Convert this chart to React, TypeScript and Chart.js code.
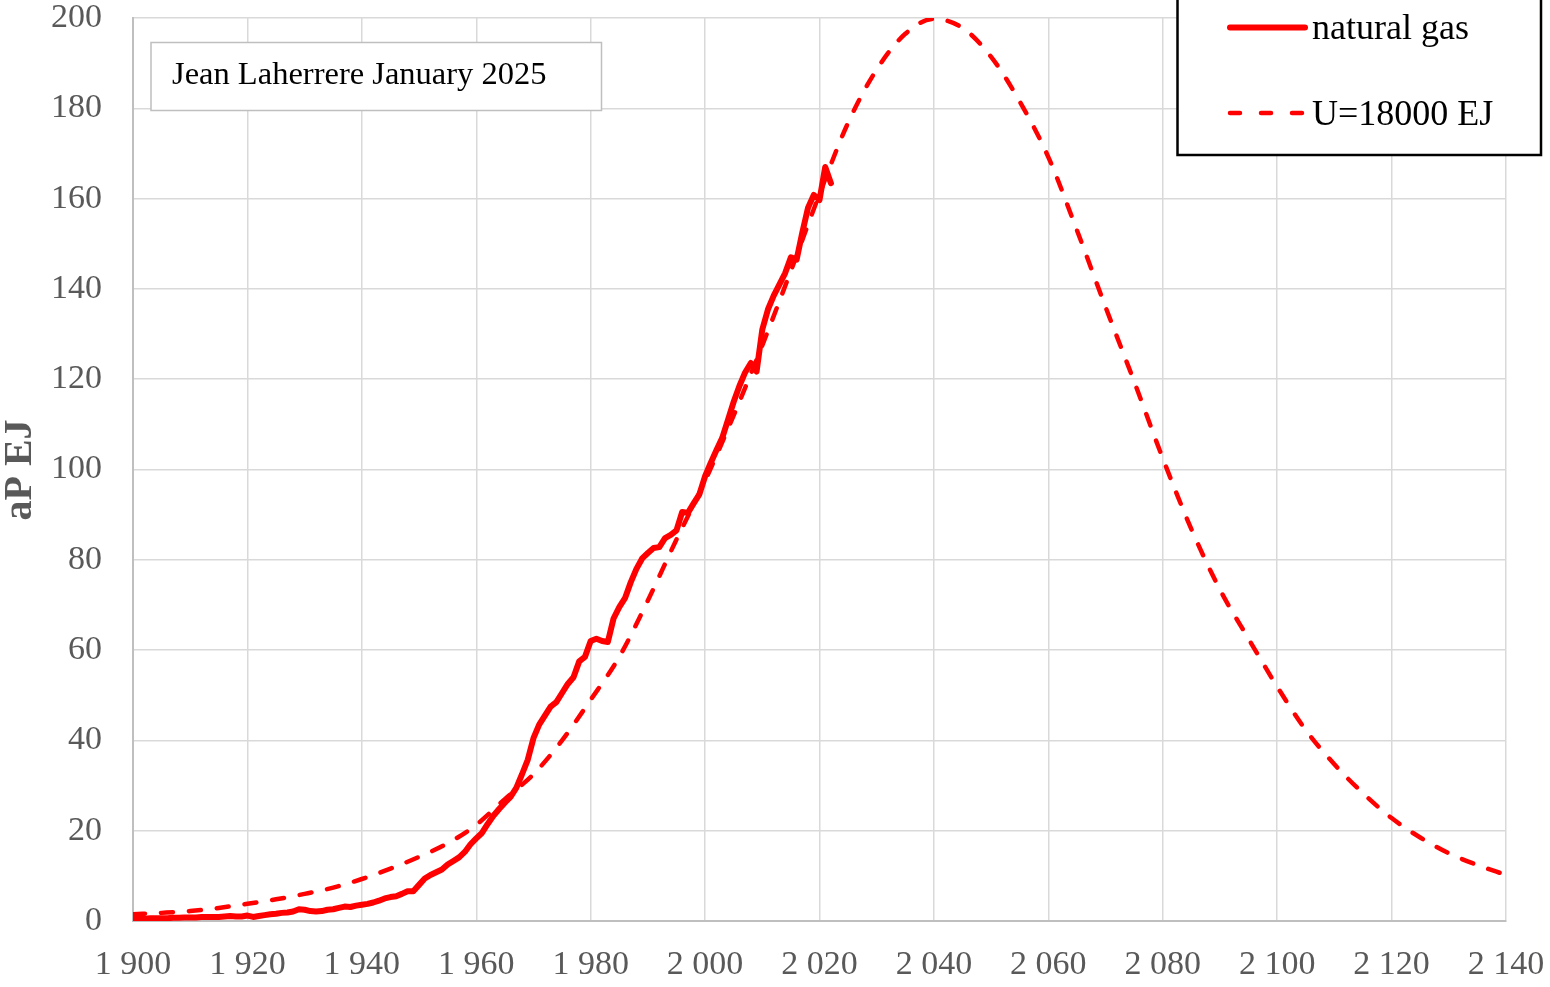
import React, { useEffect, useRef } from "react";
import { Chart, registerables } from "chart.js";

Chart.register(...registerables);

// natural gas, annual production (EJ), yearly from GAS_START_YEAR
const GAS_START_YEAR = 1900;
const GAS_VALUES = [
  0.5, 0.5, 0.5, 0.6, 0.6, 0.6, 0.6, 0.7, 0.7, 0.8,
  0.8, 0.8, 0.9, 0.9, 0.9, 0.9, 1.0, 1.1, 1.0, 1.0,
  1.2, 0.9, 1.1, 1.3, 1.5, 1.6, 1.8, 1.9, 2.1, 2.6,
  2.5, 2.2, 2.1, 2.2, 2.5, 2.6, 2.9, 3.2, 3.1, 3.4,
  3.6, 3.8, 4.1, 4.5, 5.0, 5.3, 5.5, 6.0, 6.6, 6.6,
  8.0, 9.4, 10.2, 10.8, 11.4, 12.5, 13.3, 14.1, 15.3, 17.0,
  18.3, 19.5, 21.5, 23.3, 24.8, 26.2, 27.5, 29.5, 32.5, 35.7,
  40.5, 43.5, 45.5, 47.5, 48.5, 50.5, 52.5, 54.0, 57.5, 58.5,
  62.0, 62.5, 62.0, 61.8, 67.0, 69.5, 71.5, 75.0, 78.0, 80.3,
  81.5, 82.6, 82.8, 84.8, 85.5, 86.5, 90.6, 90.4, 92.5, 94.5,
  98.5, 101.5, 104.3, 107.0, 111.0, 115.0, 118.5, 121.5, 123.6, 121.7,
  131.0, 135.5, 138.5, 141.0, 143.5, 147.0, 146.5, 152.5, 158.0, 160.8,
  159.7, 167.0, 163.4,
];

// model curve U=18000 EJ, read every 5 years
const MODEL_YEARS = [
  1900, 1905, 1910, 1915, 1920, 1925, 1930, 1935, 1940, 1945,
  1950, 1955, 1960, 1965, 1970, 1975, 1980, 1985, 1990, 1995,
  2000, 2005, 2010, 2015, 2020, 2025, 2030, 2035, 2040, 2045,
  2050, 2055, 2060, 2065, 2070, 2075, 2080, 2085, 2090, 2095,
  2100, 2105, 2110, 2115, 2120, 2125, 2130, 2135, 2140,
];
const MODEL_VALUES = [
  1.5, 1.8, 2.2, 2.9, 3.8, 4.8, 6.0, 7.4, 9.3, 11.6,
  14.2, 17.2, 21.3, 27.0, 32.5, 40.0, 49.0, 58.5, 71.0, 84.5,
  97.5, 112.0, 127.5, 144.0, 161.0, 176.8, 188.6, 196.5, 199.8, 197.8,
  191.4, 181.5, 169.2, 153.0, 136.0, 119.5, 102.5, 86.8, 73.4, 62.5,
  51.9, 42.3, 34.7, 28.3, 22.8, 18.5, 15.0, 12.4, 10.2,
];

const X_MIN = 1900;
const X_MAX = 2140;
const X_STEP = 20;
const Y_MIN = 0;
const Y_MAX = 200;
const Y_STEP = 20;

const SERIES_NAMES = ["natural gas", "U=18000 EJ"];
const Y_TITLE = "aP EJ";
const NOTE = "Jean Laherrere January 2025";

const SERIF = "'Liberation Serif', 'Times New Roman', serif";

function fmtYear(v: number): string {
  const t = Math.floor(v / 1000);
  const r = String(Math.round(v % 1000)).padStart(3, "0");
  return `${t} ${r}`;
}

const overlayPlugin = {
  id: "overlay",
  afterDraw(chart: any) {
    const ctx = chart.ctx as CanvasRenderingContext2D;
    ctx.save();

    // Note box
    ctx.fillStyle = "#ffffff";
    ctx.fillRect(151, 42.5, 450.5, 68);
    ctx.strokeStyle = "#bfbfbf";
    ctx.lineWidth = 1.5;
    ctx.strokeRect(151, 42.5, 450.5, 68);
    ctx.fillStyle = "#000000";
    ctx.font = `32.5px ${SERIF}`;
    ctx.textAlign = "left";
    ctx.textBaseline = "alphabetic";
    ctx.fillText(NOTE, 172, 83.5);

    // Legend box
    ctx.fillStyle = "#ffffff";
    ctx.fillRect(1177.5, -5, 363.5, 160);
    ctx.strokeStyle = "#000000";
    ctx.lineWidth = 2.5;
    ctx.strokeRect(1177.5, -5, 363.5, 160);

    ctx.strokeStyle = "#ff0000";
    ctx.lineCap = "round";
    ctx.lineWidth = 6;
    ctx.setLineDash([]);
    ctx.beginPath();
    ctx.moveTo(1230, 27.5);
    ctx.lineTo(1305, 27.5);
    ctx.stroke();

    ctx.lineWidth = 4.5;
    ctx.setLineDash([10, 21]);
    ctx.beginPath();
    ctx.moveTo(1230, 113);
    ctx.lineTo(1305, 113);
    ctx.stroke();
    ctx.setLineDash([]);

    ctx.fillStyle = "#000000";
    ctx.font = `36px ${SERIF}`;
    ctx.fillText(SERIES_NAMES[0], 1312, 38.5);
    ctx.fillText(SERIES_NAMES[1], 1312, 125);

    // Y title
    ctx.translate(21, 470);
    ctx.rotate(-Math.PI / 2);
    ctx.fillStyle = "#595959";
    ctx.font = `bold 40px ${SERIF}`;
    ctx.textAlign = "center";
    ctx.textBaseline = "middle";
    ctx.fillText(Y_TITLE, 0, 0);

    ctx.restore();
  },
};

export default function App() {
  const canvasRef = useRef<HTMLCanvasElement | null>(null);

  useEffect(() => {
    document.body.style.margin = "0";
    const canvas = canvasRef.current;
    if (!canvas) return;

    const gasData = GAS_VALUES.map((v, i) => ({ x: GAS_START_YEAR + i, y: v }));
    const modelData = MODEL_YEARS.map((yr, i) => ({ x: yr, y: MODEL_VALUES[i] }));

    const chart = new Chart(canvas, {
      type: "line",
      data: {
        datasets: [
          {
            label: SERIES_NAMES[1],
            data: modelData,
            borderColor: "#ff0000",
            borderWidth: 4.5,
            borderDash: [12, 16],
            borderCapStyle: "round",
            borderJoinStyle: "round",
            pointRadius: 0,
            cubicInterpolationMode: "monotone",
            fill: false,
          },
          {
            label: SERIES_NAMES[0],
            data: gasData,
            borderColor: "#ff0000",
            borderWidth: 6,
            borderCapStyle: "round",
            borderJoinStyle: "round",
            pointRadius: 0,
            tension: 0,
            fill: false,
          },
        ],
      },
      options: {
        responsive: false,
        animation: false,
        devicePixelRatio: 1,
        layout: { padding: { left: 0, right: 44, top: 18, bottom: 0 } },
        plugins: {
          legend: { display: false },
          tooltip: { enabled: false },
        },
        scales: {
          x: {
            type: "linear",
            min: X_MIN,
            max: X_MAX,
            afterFit(scale: any) {
              scale.height = 66;
              scale.paddingLeft = 0;
              scale.paddingRight = 0;
              scale.paddingTop = 0;
              scale.paddingBottom = 0;
            },
            ticks: {
              stepSize: X_STEP,
              autoSkip: false,
              maxRotation: 0,
              padding: 24,
              color: "#595959",
              font: { family: SERIF, size: 34 },
              callback: (v: any) => fmtYear(Number(v)),
            },
            grid: { color: "#d9d9d9", lineWidth: 1.5, drawTicks: false },
            border: { color: "#bfbfbf", width: 2 },
          },
          y: {
            type: "linear",
            min: Y_MIN,
            max: Y_MAX,
            afterFit(scale: any) {
              scale.width = 133;
              scale.paddingLeft = 0;
              scale.paddingRight = 0;
              scale.paddingTop = 0;
              scale.paddingBottom = 0;
            },
            ticks: {
              stepSize: Y_STEP,
              padding: 31,
              color: "#595959",
              font: { family: SERIF, size: 34 },
            },
            grid: { color: "#d9d9d9", lineWidth: 1.5, drawTicks: false },
            border: { color: "#bfbfbf", width: 2 },
          },
        },
      },
      plugins: [overlayPlugin],
    });

    return () => chart.destroy();
  }, []);

  return (
    <div style={{ position: "absolute", left: 0, top: 0, width: 1550, height: 987 }}>
      <canvas ref={canvasRef} width={1550} height={987} style={{ display: "block" }} />
    </div>
  );
}
